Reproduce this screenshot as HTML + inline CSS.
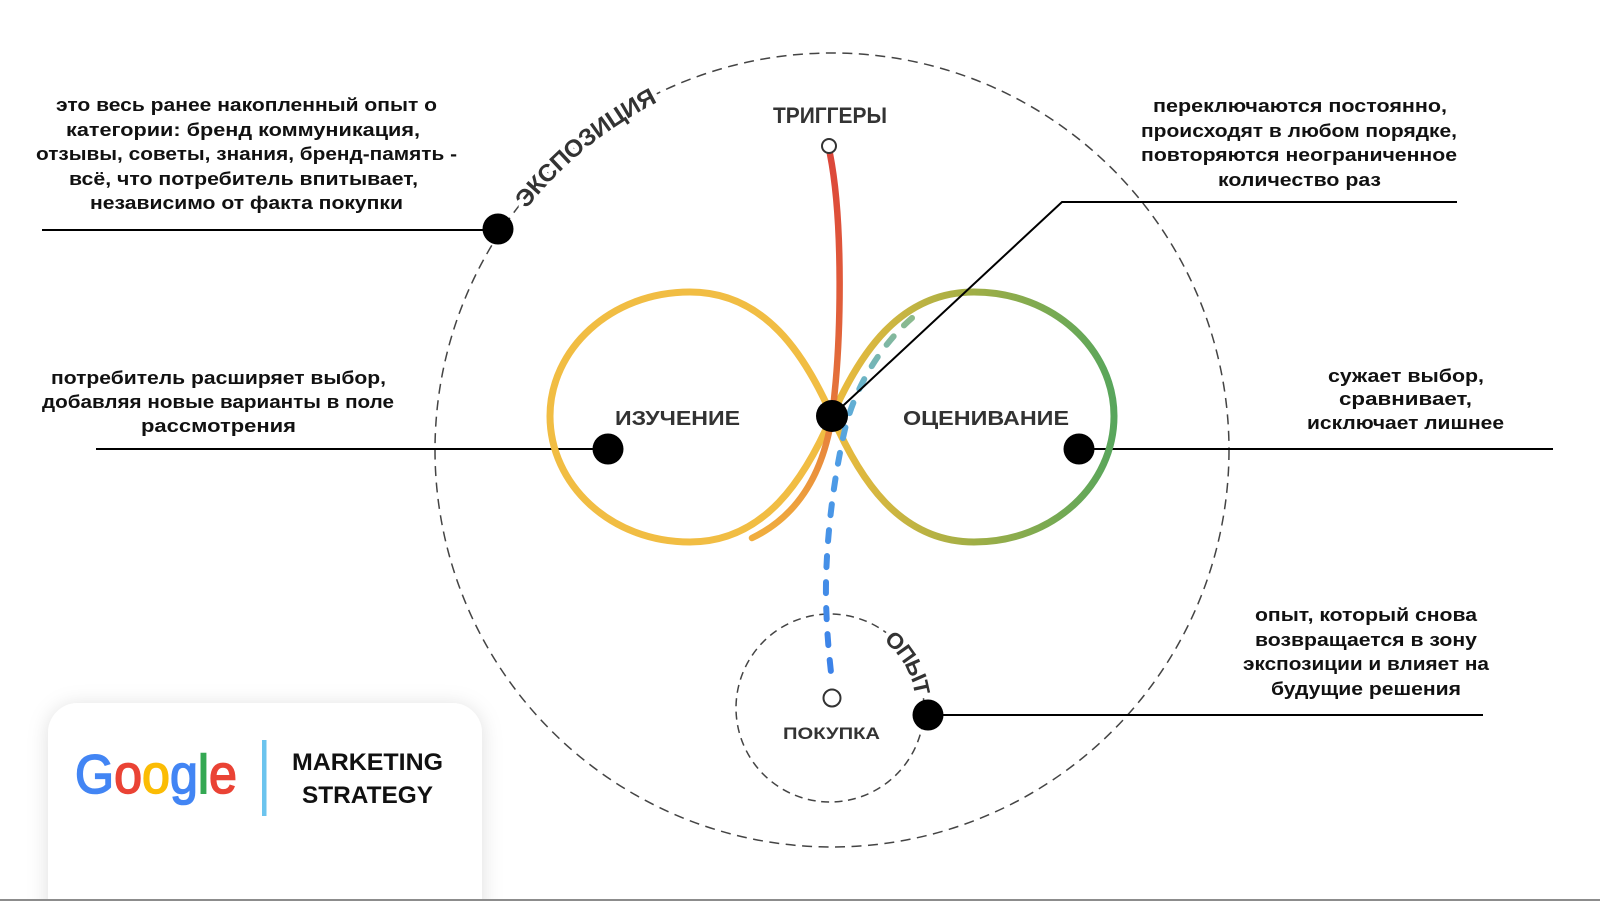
<!DOCTYPE html>
<html>
<head>
<meta charset="utf-8">
<style>
  html,body{margin:0;padding:0;background:#fff;}
  body{width:1600px;height:901px;overflow:hidden;}
  svg{display:block;}
  .t{font-family:"Liberation Sans","DejaVu Sans",sans-serif;font-weight:bold;font-size:18px;fill:#111;}
  .lbl{font-family:"Liberation Sans","DejaVu Sans",sans-serif;font-weight:bold;fill:#333;}
</style>
</head>
<body>
<svg width="1600" height="901" viewBox="0 0 1600 901" xmlns="http://www.w3.org/2000/svg">
  <defs>
    <linearGradient id="gRight" gradientUnits="userSpaceOnUse" x1="832" y1="0" x2="1115" y2="0">
      <stop offset="0" stop-color="#eebb3d"/>
      <stop offset="0.5" stop-color="#a0ae46"/>
      <stop offset="1" stop-color="#58a65c"/>
    </linearGradient>
    <linearGradient id="gRed" gradientUnits="userSpaceOnUse" x1="0" y1="150" x2="0" y2="535">
      <stop offset="0" stop-color="#dc463a"/>
      <stop offset="0.45" stop-color="#e1603a"/>
      <stop offset="0.7" stop-color="#e67c3b"/>
      <stop offset="1" stop-color="#f0ad3e"/>
    </linearGradient>
    <linearGradient id="gBlue" gradientUnits="userSpaceOnUse" x1="0" y1="318" x2="0" y2="682">
      <stop offset="0" stop-color="#8cba8c"/>
      <stop offset="0.2" stop-color="#66b2cf"/>
      <stop offset="0.4" stop-color="#4d9ce6"/>
      <stop offset="1" stop-color="#3b80e8"/>
    </linearGradient>
    <filter id="sh" x="-20%" y="-30%" width="140%" height="160%">
      <feDropShadow dx="0" dy="2" stdDeviation="10" flood-color="#000" flood-opacity="0.13"/>
    </filter>
    <path id="bigArc" d="M 435,450 A 397,397 0 1,1 1229,450 A 397,397 0 1,1 435,450"/>
    <path id="smallArc" d="M 736,708 A 94,94 0 1,1 924,708 A 94,94 0 1,1 736,708"/>
  </defs>

  <!-- big dashed circle -->
  <circle cx="832" cy="450" r="397" fill="none" stroke="#444" stroke-width="1.5" stroke-dasharray="10 6.5"/>
  <!-- small dashed circle -->
  <circle cx="830" cy="708" r="94" fill="none" stroke="#444" stroke-width="1.5" stroke-dasharray="8 5.5"/>

  <!-- connector lines -->
  <line x1="42" y1="230" x2="498" y2="230" stroke="#000" stroke-width="2"/>
  <line x1="96" y1="449" x2="608" y2="449" stroke="#000" stroke-width="2"/>
  <line x1="1079" y1="449" x2="1553" y2="449" stroke="#000" stroke-width="2"/>
  <line x1="928" y1="715" x2="1483" y2="715" stroke="#000" stroke-width="2"/>

  <!-- infinity loops -->
  <path d="M832,416 C805,355 765,292 690,292 C610,292 550,350 550,416 C550,484 610,542 690,542 C765,542 805,478 832,416 Z"
        fill="none" stroke="#f1bd43" stroke-width="7"/>
  <path d="M832,416 C859,355 899,292 974,292 C1054,292 1114,350 1114,416 C1114,484 1054,542 974,542 C899,542 859,478 832,416 Z"
        fill="none" stroke="url(#gRight)" stroke-width="7"/>

  <!-- red trigger path -->
  <path d="M830,154 C843,220 842,340 832,416 C824,468 802,514 752,538" fill="none" stroke="url(#gRed)" stroke-width="6.5" stroke-linecap="round"/>

  <!-- blue dashed path -->
  <path d="M912,318 C882,344 857,384 846,425 C835,470 825,540 826,600 C827,640 830,662 832,682"
        fill="none" stroke="url(#gBlue)" stroke-width="6" stroke-linecap="round" stroke-dasharray="11 15"/>

  <!-- line to top right -->
  <polyline points="832,416 1062,202 1457,202" fill="none" stroke="#000" stroke-width="2"/>

  <!-- circles (open) -->
  <circle cx="829" cy="146" r="7" fill="#fff" stroke="#333" stroke-width="2"/>
  <circle cx="832" cy="698" r="8.5" fill="#fff" stroke="#333" stroke-width="2"/>

  <!-- black dots -->
  <circle cx="832" cy="416" r="16" fill="#000"/>
  <circle cx="498" cy="229" r="15.5" fill="#000"/>
  <circle cx="608" cy="449" r="15.5" fill="#000"/>
  <circle cx="1079" cy="449" r="15.5" fill="#000"/>
  <circle cx="928" cy="715" r="15.5" fill="#000"/>

  <!-- arc labels: halo layer -->
  <text class="lbl" font-size="24" fill="#fff" stroke="#fff" stroke-width="9" stroke-linejoin="round" dominant-baseline="central">
    <textPath href="#bigArc" startOffset="352" text-anchor="middle" textLength="174" lengthAdjust="spacingAndGlyphs">ЭКСПОЗИЦИЯ</textPath>
  </text>
  <text class="lbl" font-size="22" fill="#fff" stroke="#fff" stroke-width="9" stroke-linejoin="round" dominant-baseline="central">
    <textPath href="#smallArc" startOffset="246" text-anchor="middle" textLength="70" lengthAdjust="spacingAndGlyphs">ОПЫТ</textPath>
  </text>
  <!-- arc labels: fill layer -->
  <text class="lbl" font-size="24" fill="#222" dominant-baseline="central">
    <textPath href="#bigArc" startOffset="352" text-anchor="middle" textLength="174" lengthAdjust="spacingAndGlyphs">ЭКСПОЗИЦИЯ</textPath>
  </text>
  <text class="lbl" font-size="22" fill="#222" dominant-baseline="central">
    <textPath href="#smallArc" startOffset="246" text-anchor="middle" textLength="70" lengthAdjust="spacingAndGlyphs">ОПЫТ</textPath>
  </text>

  <!-- node labels -->
  <text class="lbl" x="773" y="123" font-size="22" textLength="114" lengthAdjust="spacingAndGlyphs">ТРИГГЕРЫ</text>
  <text class="lbl" x="615" y="425" font-size="20" textLength="125" lengthAdjust="spacingAndGlyphs">ИЗУЧЕНИЕ</text>
  <text class="lbl" x="903" y="425" font-size="20" textLength="166" lengthAdjust="spacingAndGlyphs">ОЦЕНИВАНИЕ</text>
  <text class="lbl" x="783" y="739" font-size="17" textLength="97" lengthAdjust="spacingAndGlyphs">ПОКУПКА</text>

  <!-- top-left text -->
  <text class="t" x="56" y="111" textLength="381" lengthAdjust="spacingAndGlyphs">это весь ранее накопленный опыт о</text>
  <text class="t" x="66" y="136" textLength="354" lengthAdjust="spacingAndGlyphs">категории: бренд коммуникация,</text>
  <text class="t" x="36" y="160" textLength="421" lengthAdjust="spacingAndGlyphs">отзывы, советы, знания, бренд-память -</text>
  <text class="t" x="69" y="185" textLength="349" lengthAdjust="spacingAndGlyphs">всё, что потребитель впитывает,</text>
  <text class="t" x="90" y="209" textLength="313" lengthAdjust="spacingAndGlyphs">независимо от факта покупки</text>

  <!-- top-right text -->
  <text class="t" x="1153" y="112" textLength="294" lengthAdjust="spacingAndGlyphs">переключаются постоянно,</text>
  <text class="t" x="1141" y="137" textLength="316" lengthAdjust="spacingAndGlyphs">происходят в любом порядке,</text>
  <text class="t" x="1141" y="161" textLength="316" lengthAdjust="spacingAndGlyphs">повторяются неограниченное</text>
  <text class="t" x="1218" y="186" textLength="163" lengthAdjust="spacingAndGlyphs">количество раз</text>

  <!-- left-middle text -->
  <text class="t" x="51" y="384" textLength="335" lengthAdjust="spacingAndGlyphs">потребитель расширяет выбор,</text>
  <text class="t" x="42" y="408" textLength="352" lengthAdjust="spacingAndGlyphs">добавляя новые варианты в поле</text>
  <text class="t" x="141" y="432" textLength="155" lengthAdjust="spacingAndGlyphs">рассмотрения</text>

  <!-- right-middle text -->
  <text class="t" x="1328" y="382" textLength="156" lengthAdjust="spacingAndGlyphs">сужает выбор,</text>
  <text class="t" x="1339" y="405" textLength="133" lengthAdjust="spacingAndGlyphs">сравнивает,</text>
  <text class="t" x="1307" y="429" textLength="197" lengthAdjust="spacingAndGlyphs">исключает лишнее</text>

  <!-- bottom-right text -->
  <text class="t" x="1255" y="621" textLength="222" lengthAdjust="spacingAndGlyphs">опыт, который снова</text>
  <text class="t" x="1255" y="646" textLength="222" lengthAdjust="spacingAndGlyphs">возвращается в зону</text>
  <text class="t" x="1243" y="670" textLength="246" lengthAdjust="spacingAndGlyphs">экспозиции и влияет на</text>
  <text class="t" x="1271" y="695" textLength="190" lengthAdjust="spacingAndGlyphs">будущие решения</text>

  <!-- Google card -->
  <rect x="48" y="703" width="434" height="240" rx="30" ry="30" fill="#fff" filter="url(#sh)"/>
  <text x="75" y="793" font-family="'Liberation Sans','DejaVu Sans',sans-serif" font-size="55" stroke-width="1.6" textLength="162" lengthAdjust="spacingAndGlyphs"><tspan fill="#4285F4" stroke="#4285F4">G</tspan><tspan fill="#EA4335" stroke="#EA4335">o</tspan><tspan fill="#FBBC05" stroke="#FBBC05">o</tspan><tspan fill="#4285F4" stroke="#4285F4">g</tspan><tspan fill="#34A853" stroke="#34A853">l</tspan><tspan fill="#EA4335" stroke="#EA4335">e</tspan></text>
  <rect x="262" y="740" width="4.5" height="76" fill="#6cc4ee"/>
  <text x="292" y="770" font-family="'Liberation Sans','DejaVu Sans',sans-serif" font-weight="bold" font-size="24" fill="#111" textLength="151" lengthAdjust="spacingAndGlyphs">MARKETING</text>
  <text x="302" y="803" font-family="'Liberation Sans','DejaVu Sans',sans-serif" font-weight="bold" font-size="24" fill="#111" textLength="131" lengthAdjust="spacingAndGlyphs">STRATEGY</text>

  <!-- bottom border line -->
  <rect x="0" y="899" width="1600" height="2" fill="#8c8c8c"/>
</svg>
</body>
</html>
